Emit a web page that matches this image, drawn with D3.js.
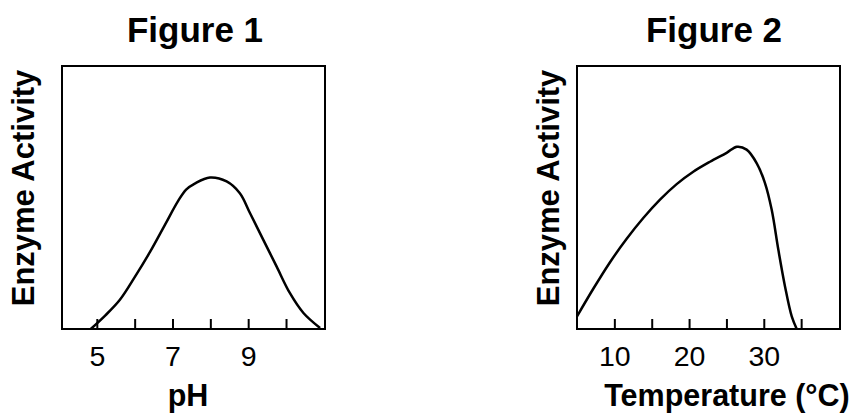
<!DOCTYPE html>
<html>
<head>
<meta charset="utf-8">
<script src="https://cdn.jsdelivr.net/npm/d3@7"></script>
<style>
  html, body { margin: 0; padding: 0; background: #fff; }
  svg { display: block; }
  text { font-family: "Liberation Sans", Arial, Helvetica, sans-serif; fill: #000; }
</style>
</head>
<body>
<svg id="chart" width="855" height="415"></svg>
<script>
// ---- Data ----
const titles = ["Figure 1", "Figure 2"];
const yLabel = "Enzyme Activity";
const xLabels = ["pH", "Temperature (\u00B0C)"];

// Figure 1: pH vs activity
const phValues = [4.84, 5.22, 5.61, 6.01, 6.41, 6.8, 7.15, 7.36, 7.6, 7.99, 8.43, 8.78, 9.05, 9.4, 9.75, 10.1, 10.46, 10.9];
const phActivity = [0, 5.1, 11.1, 19.9, 29.4, 39.6, 48.7, 53.0, 55.4, 57.6, 56.1, 51.6, 44, 33.9, 23.8, 13.7, 6.1, 0.4];
const phTicks = [5, 6, 7, 8, 9, 10];
const phTickLabels = [5, 7, 9];
const phDomain = [4.08, 11.03];

// Figure 2: temperature vs activity
const tempValues = [5.0, 7.18, 9.42, 11.65, 13.87, 16.11, 18.34, 20.56, 22.8, 25.03, 26.4, 27.7, 29.06, 30.17, 31.06, 31.95, 32.84, 33.74, 34.41];
const tempActivity = [4.8, 15.3, 25.4, 34.3, 42.2, 49.2, 55.1, 59.8, 63.6, 67.0, 69.3, 68.2, 63, 55.4, 45.3, 30.1, 16.2, 4.8, 0];
const tempTicks = [10, 15, 20, 25, 30, 35];
const tempTickLabels = [10, 20, 30];
const tempDomain = [5, 40.2];

const activityDomain = [0, 100];

// ---- Drawing ----
const svg = d3.select("#chart");
const size = 263;
const panels = [
  { left: 62, top: 66, xs: phValues, ys: phActivity, ticks: phTicks, labels: phTickLabels, domain: phDomain,
    title: titles[0], titleX: 195, xLabel: xLabels[0], xLabelX: 188, yLabelX: 34 },
  { left: 577, top: 66, xs: tempValues, ys: tempActivity, ticks: tempTicks, labels: tempTickLabels, domain: tempDomain,
    title: titles[1], titleX: 714, xLabel: xLabels[1], xLabelX: 727, yLabelX: 559 }
];

panels.forEach((p, i) => {
  const g = svg.append("g").attr("transform", `translate(${p.left},${p.top})`);
  const x = d3.scaleLinear().domain(p.domain).range([0, size]);
  const y = d3.scaleLinear().domain(activityDomain).range([size, 0]);

  const clipId = "clip" + i;
  g.append("clipPath").attr("id", clipId)
    .append("rect").attr("x", 0).attr("y", 0).attr("width", size).attr("height", size);

  // curve
  const data = p.xs.map((v, k) => [v, p.ys[k]]);
  const line = d3.line().x(d => x(d[0])).y(d => y(d[1])).curve(d3.curveCatmullRom.alpha(0.5));
  g.append("path").datum(data)
    .attr("d", line)
    .attr("fill", "none").attr("stroke", "#000").attr("stroke-width", 2.5)
    .attr("stroke-linejoin", "round")
    .attr("clip-path", `url(#${clipId})`);

  // axis ticks (inside) with labels
  const axis = d3.axisBottom(x).tickValues(p.ticks)
    .tickSizeInner(-10).tickSizeOuter(0).tickPadding(17)
    .tickFormat(d => p.labels.includes(d) ? d : "");
  const ax = g.append("g").attr("transform", `translate(0,${size})`).call(axis);
  ax.select(".domain").remove();
  ax.selectAll(".tick line").attr("stroke", "#000").attr("stroke-width", 2);
  ax.selectAll(".tick text").attr("font-size", 28.5).attr("fill", "#000")
    .style("font-family", '"Liberation Sans", Arial, sans-serif');

  // frame
  g.append("rect").attr("x", 0).attr("y", 0).attr("width", size).attr("height", size)
    .attr("fill", "none").attr("stroke", "#000").attr("stroke-width", 2);

  // title
  svg.append("text").attr("x", p.titleX).attr("y", 41.5)
    .attr("text-anchor", "middle").attr("font-size", 35).attr("font-weight", "bold")
    .text(p.title);

  // x label
  svg.append("text").attr("x", p.xLabelX).attr("y", 406)
    .attr("text-anchor", "middle").attr("font-size", 30.5).attr("font-weight", "bold")
    .text(p.xLabel);

  // y label
  svg.append("text")
    .attr("transform", `translate(${p.yLabelX},188) rotate(-90)`)
    .attr("text-anchor", "middle").attr("font-size", 31).attr("font-weight", "bold")
    .text(yLabel);
});
</script>
</body>
</html>
